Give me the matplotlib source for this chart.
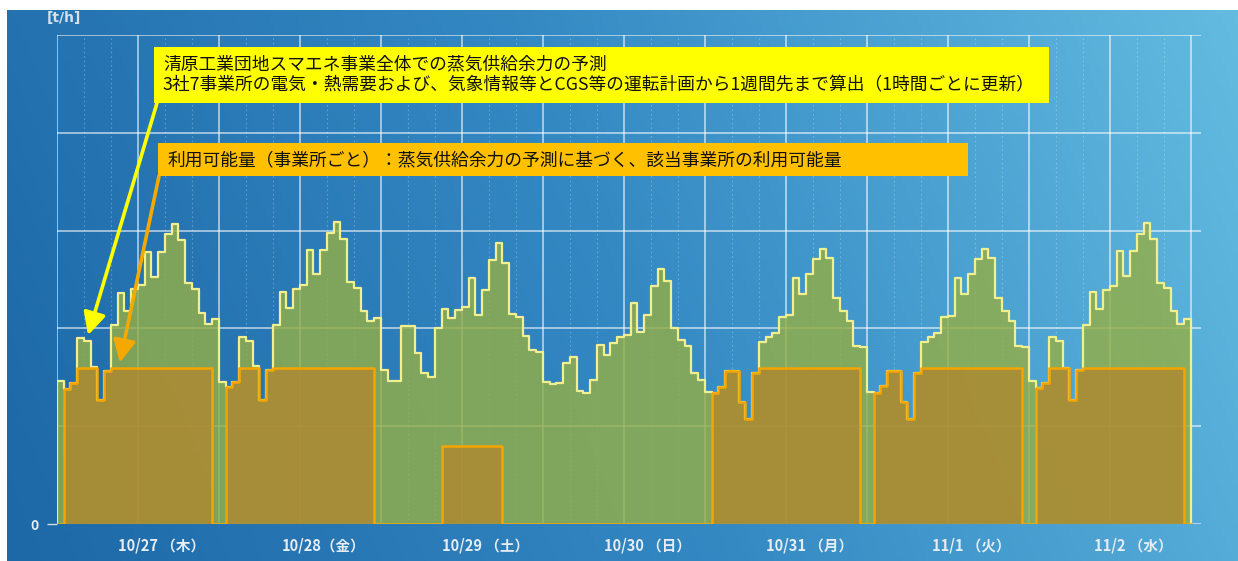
import numpy as np
import matplotlib
matplotlib.use('Agg')
import matplotlib.pyplot as plt
from matplotlib.patches import Rectangle
from matplotlib.colors import LinearSegmentedColormap

plt.rcParams['font.family'] = ['Noto Sans CJK JP', 'DejaVu Sans']

# ---------------- data ----------------
day_labels = ['10/27 （木）', '10/28（金）', '10/29 （土）', '10/30 （日）',
              '10/31 （月）', '11/1 （火）', '11/2 （水）']

# hourly steam supply surplus forecast for the whole estate [t/h]
surplus_1027 = [14.6, 13.8, 14.4, 19.0, 18.7, 16.1, 12.7, 15.6, 20.3, 23.6, 21.8, 24.0,
                24.4, 27.8, 25.3, 27.8, 29.7, 30.7, 29.0, 24.6, 24.0, 21.6, 20.5, 21.0]
surplus_1028 = [14.5, 14.0, 14.5, 19.1, 18.7, 16.2, 12.7, 15.7, 20.3, 23.7, 22.1, 24.0,
                24.4, 28.0, 25.6, 28.0, 29.8, 30.9, 29.1, 24.7, 24.1, 21.8, 20.8, 21.1]
surplus_1029 = [15.7, 14.6, 14.6, 20.2, 20.2, 17.5, 15.4, 15.0, 20.0, 22.0, 21.1, 21.9,
                22.2, 25.2, 21.4, 23.9, 27.0, 28.7, 26.7, 21.5, 21.2, 19.2, 17.8, 17.6]
surplus_1030 = [14.5, 14.3, 14.4, 16.5, 17.1, 13.6, 13.4, 14.7, 18.3, 17.3, 18.5, 19.1,
                19.3, 22.6, 19.6, 21.4, 24.3, 26.1, 24.8, 20.0, 18.8, 18.2, 15.4, 14.7]
surplus_1031 = [13.5, 13.4, 14.0, 15.6, 15.6, 12.5, 10.7, 15.4, 18.6, 19.1, 19.5, 21.2,
                21.4, 25.2, 23.5, 25.6, 27.1, 28.1, 27.2, 23.1, 21.8, 20.8, 18.2, 18.1]
surplus_1101 = [13.5, 13.4, 14.1, 15.6, 15.6, 12.5, 10.7, 15.4, 18.6, 19.1, 19.5, 21.2,
                21.3, 25.2, 23.5, 25.6, 27.1, 28.1, 27.2, 23.1, 21.8, 20.8, 18.2, 18.1]
surplus_1102 = [14.6, 13.9, 14.4, 19.1, 18.7, 16.0, 12.7, 15.7, 20.3, 23.7, 22.0, 23.9,
                24.3, 27.9, 25.4, 27.9, 29.7, 30.8, 29.1, 24.6, 24.1, 21.8, 20.5, 21.0]

# hourly usable amount for the facility [t/h]
avail_1027 = [0, 13.8, 14.4, 16.0, 16.0, 16.0, 12.7, 15.6, 16.0, 16.0, 16.0, 16.0,
              16.0, 16.0, 16.0, 16.0, 16.0, 16.0, 16.0, 16.0, 16.0, 16.0, 16.0, 0]
avail_1028 = [0, 14.0, 14.5, 16.0, 16.0, 16.0, 12.7, 15.7, 16.0, 16.0, 16.0, 16.0,
              16.0, 16.0, 16.0, 16.0, 16.0, 16.0, 16.0, 16.0, 16.0, 16.0, 16.0, 0]
avail_1029 = [0, 0, 0, 0, 0, 0, 0, 0, 0, 8.0, 8.0, 8.0,
              8.0, 8.0, 8.0, 8.0, 8.0, 8.0, 0, 0, 0, 0, 0, 0]
avail_1030 = [0] * 24
avail_1031 = [0, 13.4, 14.0, 15.6, 15.6, 12.5, 10.7, 15.4, 16.0, 16.0, 16.0, 16.0,
              16.0, 16.0, 16.0, 16.0, 16.0, 16.0, 16.0, 16.0, 16.0, 16.0, 16.0, 0]
avail_1101 = [0, 13.4, 14.1, 15.6, 15.6, 12.5, 10.7, 15.4, 16.0, 16.0, 16.0, 16.0,
              16.0, 16.0, 16.0, 16.0, 16.0, 16.0, 16.0, 16.0, 16.0, 16.0, 16.0, 0]
avail_1102 = [0, 13.9, 14.4, 16.0, 16.0, 16.0, 12.7, 15.7, 16.0, 16.0, 16.0, 16.0,
              16.0, 16.0, 16.0, 16.0, 16.0, 16.0, 16.0, 16.0, 16.0, 16.0, 16.0, 0]

box1_lines = ['清原工業団地スマエネ事業全体での蒸気供給余力の予測',
              '3社7事業所の電気・熱需要および、気象情報等とCGS等の運転計画から1週間先まで算出（1時間ごとに更新）']
box2_text = '利用可能量（事業所ごと）：蒸気供給余力の予測に基づく、該当事業所の利用可能量'

surplus = np.array(surplus_1027 + surplus_1028 + surplus_1029 + surplus_1030 +
                   surplus_1031 + surplus_1101 + surplus_1102, dtype=float)
avail = np.array(avail_1027 + avail_1028 + avail_1029 + avail_1030 +
                 avail_1031 + avail_1101 + avail_1102, dtype=float)

# ---------------- figure ----------------
W, H = 1238, 561
fig = plt.figure(figsize=(W / 100, H / 100), dpi=100)
fig.patch.set_facecolor('white')


def px(x0, y0, x1, y1):
    return [x0 / W, 1 - y1 / H, (x1 - x0) / W, (y1 - y0) / H]


# background gradient
bg = fig.add_axes(px(7, 10, W, H), zorder=0)
u = np.linspace(0, 1, 300)
v = np.linspace(0, 1, 150)
U, V = np.meshgrid(u, v)
T = 0.85 * U + 0.15 * (1 - V)
cmap = LinearSegmentedColormap.from_list('bgblue', ['#1d68a7', '#3489c3', '#63bbe0'])
bg.imshow(T, cmap=cmap, aspect='auto', extent=[0, 1, 0, 1], origin='upper', vmin=0, vmax=1)
bg.axis('off')

n = len(surplus)
ax = fig.add_axes(px(57, 35, 1201, 524), zorder=1)
ax.set_facecolor('none')
ax.set_xlim(0, 169.5)
ax.set_ylim(0, 50)
for s in ax.spines.values():
    s.set_visible(False)

# grid
for yv in range(0, 51, 10):
    ax.axhline(yv, color='white', alpha=0.7, lw=1.1, zorder=1)
for h in range(0, n + 1, 12):
    ax.axvline(h, color='white', alpha=0.7, lw=1.1, zorder=1)
for h in range(4, n, 4):
    if h % 12:
        ax.axvline(h, color='white', alpha=0.25, lw=0.8, ls=(0, (1.5, 2.5)), zorder=1)

edges = np.arange(n + 1)
s_ext = np.append(surplus, surplus[-1])
a_ext = np.append(avail, avail[-1])

ax.fill_between(edges, s_ext, step='post', color='#93ae48', alpha=0.82, lw=0, zorder=2)
ax.fill_between(edges, a_ext, step='post', color='#ad8a33', alpha=0.85, lw=0, zorder=3)

xs = np.concatenate([[0], edges, [n]])
ax.plot(xs, np.concatenate([[0], s_ext, [0]]), drawstyle='steps-post',
        color='#f2f08e', lw=1.6, zorder=4)
ax.plot(xs, np.concatenate([[0], a_ext, [0]]), drawstyle='steps-post',
        color='#f5a400', lw=1.8, zorder=5)

# ticks
ax.set_yticks([0])
ax.set_yticklabels(['0'])
ax.tick_params(axis='y', length=7, width=1, color='#cfdbe6', labelcolor='#e6edf4',
               labelsize=10, pad=6)
for lab in ax.get_yticklabels():
    lab.set_fontweight('bold')
ax.set_xticks([d * 24 + 15.5 for d in range(len(day_labels))])
ax.set_xticklabels(day_labels)
ax.tick_params(axis='x', length=0, labelcolor='#e6edf4', labelsize=10.5, pad=10)
for lab in ax.get_xticklabels():
    lab.set_fontweight('bold')

fig.text(47 / W, 1 - 18 / H, '[t/h]', color='#d6e1ec', fontsize=10, fontweight='bold',
         va='center', ha='left', family=['DejaVu Sans'])

# annotation boxes
fig.add_artist(Rectangle((154 / W, 1 - 103 / H), (1049 - 154) / W, (103 - 47) / H,
                         transform=fig.transFigure, facecolor='#ffff00', edgecolor='none', zorder=6))
fig.text(163 / W, 1 - 64.5 / H, box1_lines[0], fontsize=12.75, va='center', ha='left',
         color='#111111', zorder=7)
fig.text(163 / W, 1 - 85.5 / H, box1_lines[1], fontsize=12.75, va='center', ha='left',
         color='#111111', zorder=7)

fig.add_artist(Rectangle((158 / W, 1 - 176 / H), (968 - 158) / W, (176 - 143) / H,
                         transform=fig.transFigure, facecolor='#ffc000', edgecolor='none', zorder=6))
fig.text(168 / W, 1 - 160 / H, box2_text, fontsize=12.8, va='center', ha='left',
         color='#111111', zorder=7)

ax.annotate('', xy=(4.6, 19.3), xycoords='data', xytext=(157, H - 103), textcoords='figure pixels',
            arrowprops=dict(arrowstyle='-|>,head_length=0.9,head_width=0.45', color='#ffff00',
                            lw=2.6, shrinkA=0, shrinkB=0, mutation_scale=15), zorder=8)
ax.annotate('', xy=(9.3, 16.5), xycoords='data', xytext=(159, H - 176), textcoords='figure pixels',
            arrowprops=dict(arrowstyle='-|>,head_length=0.9,head_width=0.45', color='#f5a800',
                            lw=2.6, shrinkA=0, shrinkB=0, mutation_scale=15), zorder=8)

fig.savefig('out.png', dpi=100, facecolor='white')
